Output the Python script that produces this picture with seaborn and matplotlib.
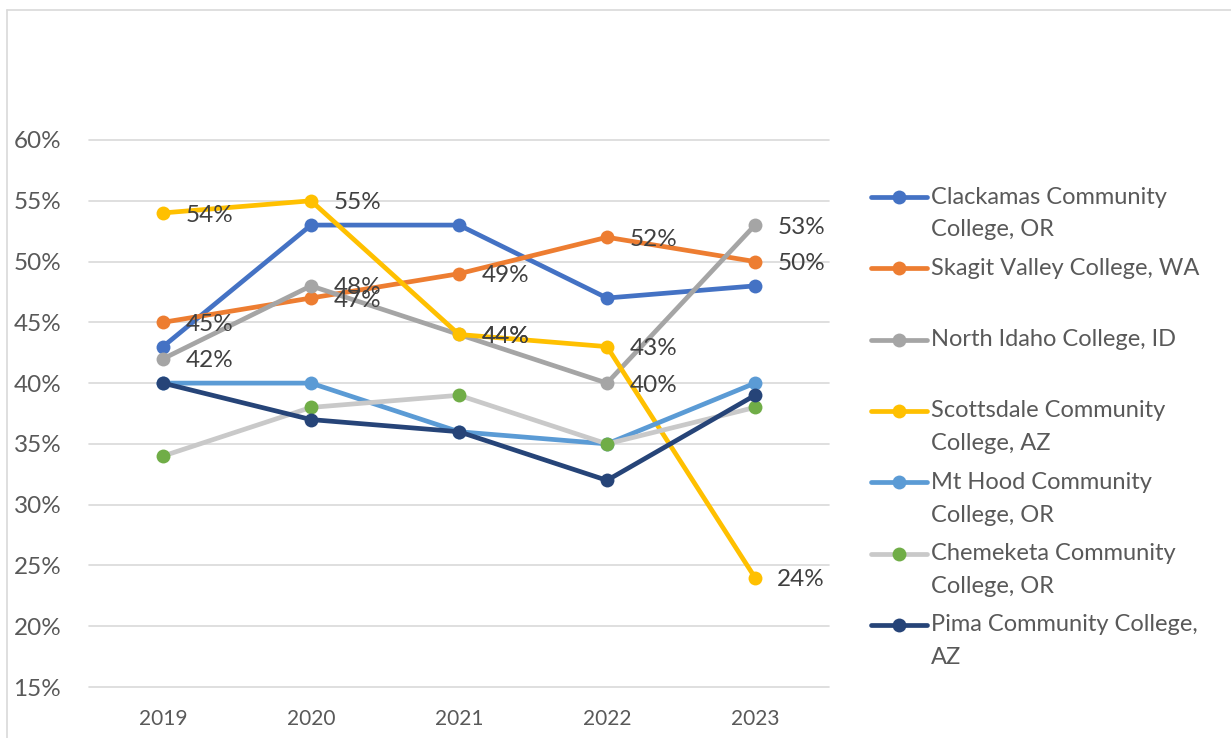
import numpy as np
import matplotlib.pyplot as plt
import seaborn as sns
from matplotlib.lines import Line2D

# === Data === #
years = ["2019", "2020", "2021", "2022", "2023"]

clackamas = [43, 53, 53, 47, 48]
skagit = [45, 47, 49, 52, 50]
north_idaho = [42, 48, 44, 40, 53]
scottsdale = [54, 55, 44, 43, 24]
mt_hood = [40, 40, 36, 35, 40]
chemeketa = [34, 38, 39, 35, 38]
pima = [40, 37, 36, 32, 39]

series_names = [
    "Clackamas Community\nCollege, OR",
    "Skagit Valley College, WA",
    "North Idaho College, ID",
    "Scottsdale Community\nCollege, AZ",
    "Mt Hood Community\nCollege, OR",
    "Chemeketa Community\nCollege, OR",
    "Pima Community College,\nAZ",
]
series_values = [clackamas, skagit, north_idaho, scottsdale, mt_hood, chemeketa, pima]
line_colors = ["#4472C4", "#ED7D31", "#A5A5A5", "#FFC000", "#5B9BD5", "#C9C9C9", "#264478"]
marker_colors = ["#4472C4", "#ED7D31", "#A5A5A5", "#FFC000", "#5B9BD5", "#70AD47", "#264478"]
show_labels = [False, True, True, True, False, False, False]

yticks = [15, 20, 25, 30, 35, 40, 45, 50, 55, 60]

# === Figure === #
sns.set_style("white")
plt.rcParams['font.family'] = ['Lato', 'DejaVu Sans']

W, H = 1231, 738
fig = plt.figure(figsize=(W / 100, H / 100), dpi=100)
ax = fig.add_axes([89 / W, 1 - 687 / H, 740 / W, 547 / H])

x = np.arange(len(years))
for name, vals, lc, mc in zip(series_names, series_values, line_colors, marker_colors):
    sns.lineplot(x=x, y=vals, ax=ax, color=lc, linewidth=3.4, marker="o",
                 markersize=10, markerfacecolor=mc, markeredgewidth=0, label=name)

# data labels on the right of the points
for vals, show in zip(series_values, show_labels):
    if not show:
        continue
    for xi, v in zip(x, vals):
        ax.annotate(f"{v}%", (xi, v), xytext=(16, -1.5), textcoords="offset points",
                    ha="left", va="center", fontsize=17.5, color="#404040", zorder=10)

ax.set_xlim(-0.5, len(years) - 0.5)
ax.set_ylim(15, 60)
ax.set_xticks(x)
ax.set_xticklabels(years)
ax.set_yticks(yticks)
ax.set_yticklabels([f"{t}%" for t in yticks])
ax.tick_params(axis="y", length=0, pad=20, labelsize=17.5, labelcolor="#595959")
ax.tick_params(axis="x", length=0, pad=16, labelsize=15, labelcolor="#595959")
ax.grid(axis="y", color="#D9D9D9", linewidth=1.2)
for gl in ax.get_ygridlines():
    gl.set_clip_on(False)
ax.set_axisbelow(True)
for s in ax.spines.values():
    s.set_visible(False)
ax.get_legend().remove()

# === Legend (Excel style: key aligned with first text line) === #
top_y = 197
slot = 71.3
for i, (name, lc, mc) in enumerate(zip(series_names, line_colors, marker_colors)):
    yc = 1 - (top_y + i * slot) / H
    fig.add_artist(Line2D([871 / W, 927 / W], [yc, yc], color=lc, linewidth=3.4,
                          solid_capstyle="round"))
    fig.add_artist(Line2D([899 / W], [yc], marker="o", markersize=10, color=mc,
                          markeredgewidth=0))
    for k, line in enumerate(name.split("\n")):
        fig.text(931 / W, 1 - (top_y + i * slot + k * 33) / H, line, ha="left",
                 va="center", fontsize=17, color="#595959")

# === Chart frame === #
fig.add_artist(Line2D([7 / W, 7 / W], [0, 1 - 10 / H], color="#D9D9D9", linewidth=1.2))
fig.add_artist(Line2D([7 / W, 1], [1 - 10 / H, 1 - 10 / H], color="#D9D9D9", linewidth=1.2))

fig.savefig("out.png", dpi=100)
plt.close()
